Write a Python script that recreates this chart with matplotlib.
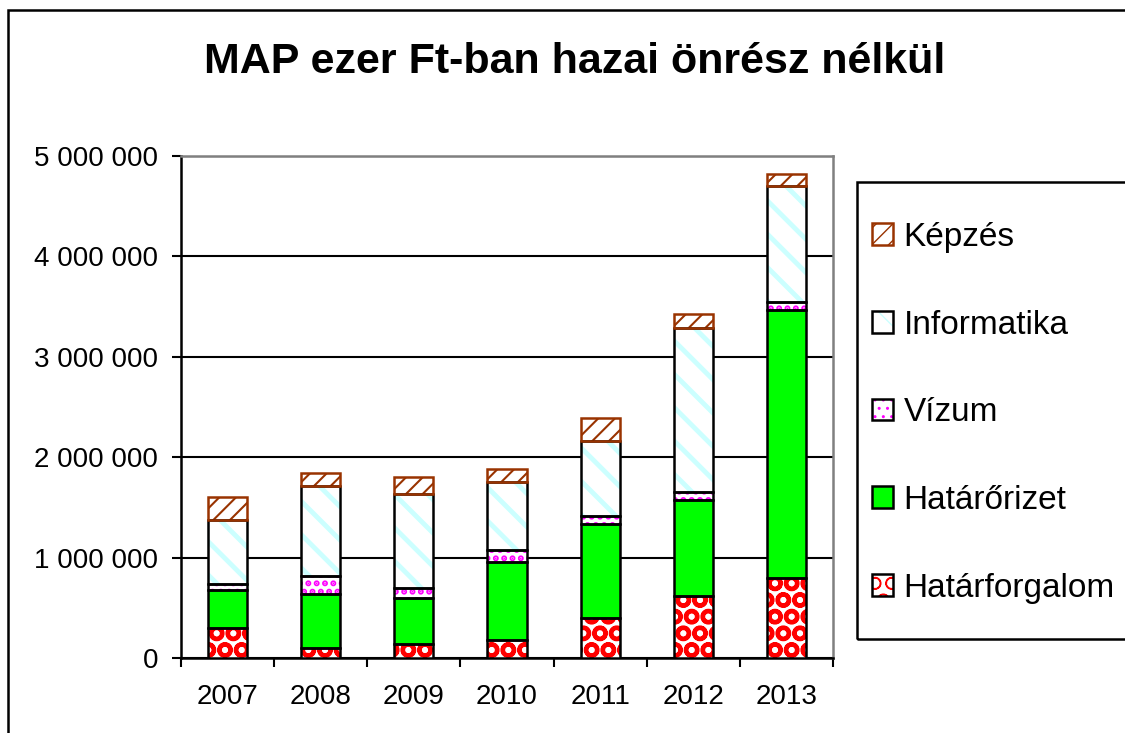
import matplotlib
matplotlib.use('Agg')
import matplotlib.pyplot as plt
from matplotlib.patches import Rectangle, Patch
from matplotlib.ticker import FuncFormatter, FixedLocator
from matplotlib.legend_handler import HandlerTuple
import numpy as np

plt.rcParams['font.family'] = ['Liberation Sans', 'DejaVu Sans']

# Adatok (ezer Ft)
years = ['2007', '2008', '2009', '2010', '2011', '2012', '2013']
hatarforgalom = [300000, 100000, 140000, 180000, 400000, 620000, 800000]
hatarorizet = [380000, 540000, 460000, 780000, 930000, 950000, 2670000]
vizum = [60000, 180000, 100000, 120000, 80000, 80000, 80000]
informatika = [630000, 890000, 930000, 670000, 750000, 1640000, 1150000]
kepzes = [230000, 130000, 170000, 130000, 230000, 140000, 120000]

# nev, ertekek, kitoltes, minta szine, minta, minta vastagsag, keret
series = [
    ('Határforgalom', hatarforgalom, 'white', '#ff0000', 'O', 3.0, 'black'),
    ('Határőrizet', hatarorizet, '#00ff00', '#00ff00', '', 1.0, 'black'),
    ('Vízum', vizum, 'white', '#ff00ff', '..', 3.0, 'black'),
    ('Informatika', informatika, 'white', '#ccffff', '\\', 3.5, 'black'),
    ('Képzés', kepzes, 'white', '#993300', '//', 1.5, '#993300'),
]


def set_hatch_lw(patch, lw):
    try:
        patch.set_hatch_linewidth(lw)
    except AttributeError:
        pass


fig = plt.figure(figsize=(11.25, 7.33), dpi=100)
ax = fig.add_axes([181 / 1125, 1 - 658 / 733, 652 / 1125, 502 / 733])

x = np.arange(len(years))
width = 0.42
bottom = np.zeros(len(years))
handles = []
for name, vals, fc, hc, hatch, hlw, ec in series:
    vals = np.array(vals, dtype=float)
    with plt.rc_context({'hatch.linewidth': hlw}):
        bars = ax.bar(x, vals, width, bottom=bottom, color=fc, edgecolor=hc,
                      hatch=hatch, linewidth=0, zorder=3)
        h1 = Patch(facecolor=fc, edgecolor=hc, hatch=hatch, linewidth=0)
    for b in bars:
        set_hatch_lw(b, hlw)
    set_hatch_lw(h1, hlw)
    ax.bar(x, vals, width, bottom=bottom, fill=False, edgecolor=ec,
           linewidth=1.8, zorder=4)
    bottom += vals
    h2 = Patch(fill=False, edgecolor=ec, linewidth=1.8)
    handles.append(((h1, h2), name))

ax.set_xlim(-0.5, len(years) - 0.5)
ax.set_ylim(0, 5000000)
ax.set_yticks(np.arange(0, 5000001, 1000000))
ax.yaxis.set_major_formatter(FuncFormatter(lambda v, p: f"{int(v):,}".replace(',', ' ')))
ax.set_xticks(x)
ax.set_xticklabels(years)
ax.xaxis.set_minor_locator(FixedLocator(np.arange(-0.5, len(years), 1.0)))
ax.tick_params(axis='x', which='major', length=0, pad=19, labelsize=20)
ax.tick_params(axis='x', which='minor', length=6.5, width=1.5, direction='out')
ax.tick_params(axis='y', length=6.5, width=1.5, direction='out', pad=10, labelsize=20)

ax.grid(axis='y', color='black', linewidth=1.5, zorder=0)
ax.set_axisbelow(True)
for side in ['left', 'bottom']:
    ax.spines[side].set_color('black')
    ax.spines[side].set_linewidth(1.8)
for side in ['top', 'right']:
    ax.spines[side].set_color('#808080')
    ax.spines[side].set_linewidth(1.8)

fig.text(575 / 1125, 1 - 62 / 733, 'MAP ezer Ft-ban hazai önrész nélkül',
         ha='center', va='center', fontsize=31, fontweight='bold')

# Jelmagyarazat
handles = handles[::-1]
leg = fig.legend([h for h, n in handles], [n for h, n in handles],
                 handler_map={tuple: HandlerTuple(ndivide=1)},
                 loc='upper left', bbox_to_anchor=(872 / 1125, 1 - 222 / 733),
                 fontsize=24, frameon=False, handlelength=0.62, handleheight=0.62,
                 handletextpad=0.33, labelspacing=1.70, borderpad=0,
                 borderaxespad=0)
fig.patches.append(Rectangle((857 / 1125, 1 - 639 / 733), 0.3, 457 / 733,
                             transform=fig.transFigure, fill=False,
                             edgecolor='black', linewidth=1.8))

# Keret
fig.patches.append(Rectangle((8 / 1125, -0.1), 1.2, 1 - 10 / 733 + 0.1,
                             transform=fig.transFigure, fill=False,
                             edgecolor='black', linewidth=1.8))

fig.savefig('out.png', dpi=100)
